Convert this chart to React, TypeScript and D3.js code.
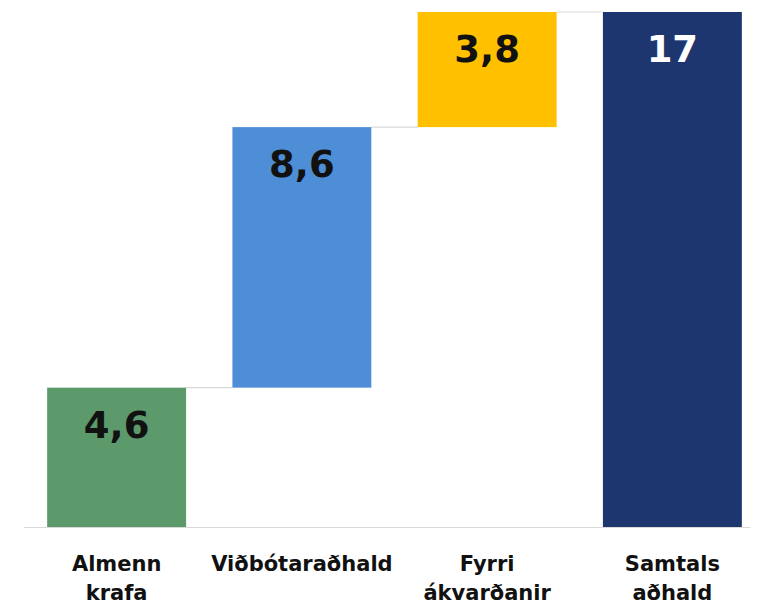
import React from "react";
import * as d3 from "d3";

const categories: string[][] = [["Almenn", "krafa"], ["Viðbótaraðhald"], ["Fyrri", "ákvarðanir"], ["Samtals", "aðhald"]];
const values: number[] = [4.6, 8.6, 3.8, 17];
const valueLabels: string[] = ["4,6", "8,6", "3,8", "17"];
const isTotal: boolean[] = [false, false, false, true];
const colors: string[] = ["#5c9a6c", "#4d8ed6", "#ffc000", "#1d3670"];
const labelColors: string[] = ["#111", "#111", "#111", "#fff"];

export default function App() {
  const W = 758, H = 606;
  const keys = categories.map((c) => c.join(" "));
  const x = d3.scaleBand<string>().domain(keys).range([24, 765]).paddingInner(0.25).paddingOuter(0.125);
  const y = d3.scaleLinear().domain([0, 17]).range([527, 12]);

  let cum = 0;
  const bars = values.map((v, i) => {
    const start = isTotal[i] ? 0 : cum;
    const end = isTotal[i] ? v : cum + v;
    if (!isTotal[i]) cum += v;
    return { key: keys[i], start, end, i };
  });

  const font = "'DejaVu Sans', Verdana, sans-serif";
  return (
    <svg width={W} height={H} style={{ position: "absolute", left: 0, top: 0, background: "#fff" }}>
      <line x1={24} x2={750} y1={y(0) + 0.5} y2={y(0) + 0.5} stroke="#d9d9d9" strokeWidth={1.2} />
      {bars.slice(0, -1).map((b, k) => {
        const next = bars[k + 1];
        return (
          <line key={"c" + k} x1={x(b.key)! + x.bandwidth()} x2={x(next.key)!} y1={y(b.end)} y2={y(b.end)} stroke="#d9d9d9" strokeWidth={1.2} />
        );
      })}
      {bars.map((b) => (
        <g key={b.key}>
          <rect x={x(b.key)} y={y(b.end)} width={x.bandwidth()} height={y(b.start) - y(b.end)} fill={colors[b.i]} />
          <text x={x(b.key)! + x.bandwidth() / 2} y={y(b.end) + 50} textAnchor="middle" fontFamily={font} fontWeight="bold" fontSize={37} fill={labelColors[b.i]}>
            {valueLabels[b.i]}
          </text>
          <text x={x(b.key)! + x.bandwidth() / 2} y={571} textAnchor="middle" fontFamily={font} fontWeight="bold" fontSize={21} fill="#111">
            {categories[b.i].map((line, j) => (
              <tspan key={j} x={x(b.key)! + x.bandwidth() / 2} dy={j === 0 ? 0 : 29}>{line}</tspan>
            ))}
          </text>
        </g>
      ))}
    </svg>
  );
}
